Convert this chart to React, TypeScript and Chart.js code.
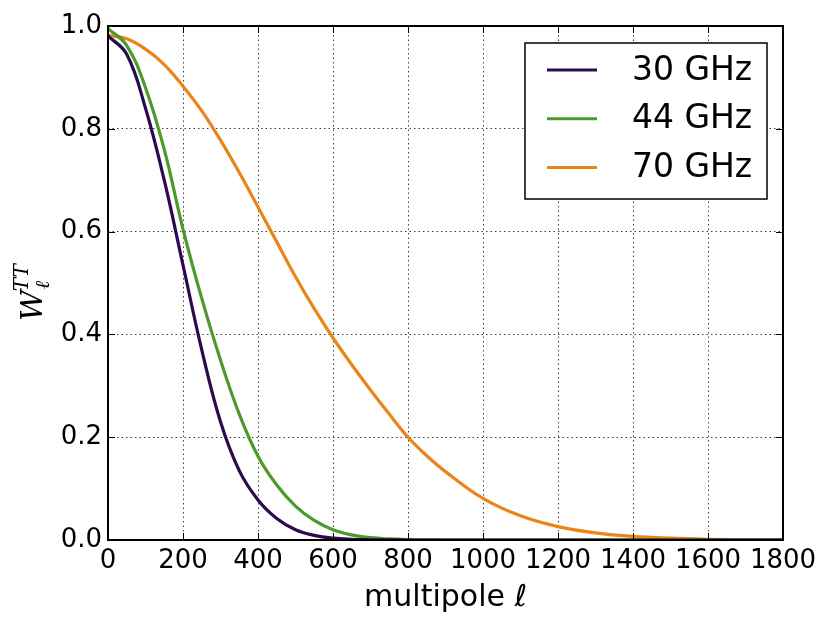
import { useEffect, useRef } from "react";
import { Chart, registerables, Plugin } from "chart.js";

Chart.register(...registerables);

// multipole grid shared by all three curves
const ell = [0, 50, 100, 150, 200, 250, 300, 350, 400, 450, 500, 550, 600, 650, 700, 750, 800, 850, 900, 1000, 1100, 1200, 1300, 1400, 1500, 1600, 1700, 1800];

const w30 = [0.981, 0.945, 0.84, 0.7, 0.535, 0.37, 0.23, 0.135, 0.078, 0.042, 0.02, 0.009, 0.0035, 0.0013, 0.0005, 0.0002, 0, 0, 0, 0, 0, 0, 0, 0, 0, 0, 0, 0];
const w44 = [0.995, 0.962, 0.88, 0.76, 0.605, 0.47, 0.35, 0.245, 0.163, 0.107, 0.066, 0.038, 0.02, 0.01, 0.0045, 0.002, 0.0008, 0.0003, 0, 0, 0, 0, 0, 0, 0, 0, 0, 0];
const w70 = [0.982, 0.975, 0.955, 0.925, 0.883, 0.835, 0.778, 0.715, 0.648, 0.58, 0.512, 0.45, 0.393, 0.341, 0.292, 0.245, 0.2, 0.164, 0.133, 0.081, 0.047, 0.026, 0.014, 0.007, 0.0035, 0.0015, 0.0006, 0.0002];

const seriesLabels = ["30 GHz", "44 GHz", "70 GHz"];
const seriesColors = ["#2b0a4d", "#4c9a2a", "#e8861a"];
const seriesValues = [w30, w44, w70];

const xTitle = "multipole \u2113";
const SANS = "'DejaVu Sans', sans-serif";
const SERIF = "'DejaVu Serif', serif";

// frame, inward ticks, legend box and the W_l^TT label
const decorations: Plugin<"line"> = {
  id: "decorations",
  afterDraw(chart) {
    const { ctx, chartArea: a, scales } = chart;
    const tick = 7;
    ctx.save();
    ctx.strokeStyle = "#000";
    ctx.lineWidth = 1;
    ctx.beginPath();
    scales.x.ticks.forEach((t) => {
      const px = Math.round(scales.x.getPixelForValue(t.value)) + 0.5;
      ctx.moveTo(px, a.bottom);
      ctx.lineTo(px, a.bottom - tick);
      ctx.moveTo(px, a.top);
      ctx.lineTo(px, a.top + tick);
    });
    scales.y.ticks.forEach((t) => {
      const py = Math.round(scales.y.getPixelForValue(t.value)) + 0.5;
      ctx.moveTo(a.left, py);
      ctx.lineTo(a.left + tick, py);
      ctx.moveTo(a.right, py);
      ctx.lineTo(a.right - tick, py);
    });
    ctx.stroke();

    ctx.lineWidth = 2;
    ctx.strokeRect(a.left, a.top, a.right - a.left, a.bottom - a.top);

    // legend
    const bx = a.right - 258;
    const by = a.top + 17;
    const bw = 242;
    const bh = 156;
    ctx.fillStyle = "#fff";
    ctx.fillRect(bx, by, bw, bh);
    ctx.lineWidth = 1.5;
    ctx.strokeStyle = "#000";
    ctx.strokeRect(bx, by, bw, bh);
    ctx.font = `33px ${SANS}`;
    ctx.textBaseline = "middle";
    ctx.textAlign = "left";
    seriesLabels.forEach((lab, i) => {
      const ly = by + 27 + i * 48.7;
      ctx.strokeStyle = seriesColors[i];
      ctx.lineWidth = 3;
      ctx.beginPath();
      ctx.moveTo(bx + 22, ly);
      ctx.lineTo(bx + 72, ly);
      ctx.stroke();
      ctx.fillStyle = "#000";
      ctx.fillText(lab, bx + 107, ly + 1);
    });

    // y label
    ctx.translate(42, 321);
    ctx.rotate(-Math.PI / 2);
    ctx.fillStyle = "#000";
    ctx.textBaseline = "alphabetic";
    ctx.font = `italic 30px ${SERIF}`;
    ctx.fillText("W", 0, 0);
    const ww = ctx.measureText("W").width;
    ctx.font = `italic 20px ${SERIF}`;
    ctx.fillText("\u2113", ww + 1, 7);
    ctx.fillText("TT", ww - 1, -14);
    ctx.restore();
  },
};

export default function App() {
  const canvasRef = useRef<HTMLCanvasElement | null>(null);

  useEffect(() => {
    if (!canvasRef.current) return;
    const chart = new Chart(canvasRef.current, {
      type: "line",
      data: {
        datasets: seriesLabels.map((label, i) => ({
          label,
          data: ell.map((l, j) => ({ x: l, y: seriesValues[i][j] })),
          borderColor: seriesColors[i],
          borderWidth: 3.2,
          pointRadius: 0,
          tension: 0.4,
          fill: false,
        })),
      },
      options: {
        animation: false,
        responsive: true,
        maintainAspectRatio: false,
        layout: { padding: { top: 26, right: 47, left: 0, bottom: 0 } },
        plugins: { legend: { display: false }, tooltip: { enabled: false } },
        scales: {
          x: {
            type: "linear",
            min: 0,
            max: 1800,
            ticks: {
              stepSize: 200,
              color: "#000",
              font: { family: SANS, size: 26 },
              padding: 6,
              maxRotation: 0,
              autoSkip: false,
              callback: (v) => String(v),
            },
            grid: { color: "rgba(0,0,0,0.75)", lineWidth: 1, drawTicks: false },
            border: { display: false, dash: [1.5, 3] },
            title: {
              display: true,
              text: xTitle,
              color: "#000",
              font: { family: SANS, size: 30 },
              padding: { top: 0, bottom: 12 },
            },
            afterFit: (s) => {
              s.height = 88;
            },
          },
          y: {
            type: "linear",
            min: 0,
            max: 1,
            ticks: {
              stepSize: 0.2,
              color: "#000",
              font: { family: SANS, size: 26 },
              padding: 6,
              callback: (v) => Number(v).toFixed(1),
            },
            grid: { color: "rgba(0,0,0,0.75)", lineWidth: 1, drawTicks: false },
            border: { display: false, dash: [1.5, 3] },
            afterFit: (s) => {
              s.width = 108;
            },
          },
        },
      },
      plugins: [decorations],
    });
    return () => chart.destroy();
  }, []);

  return (
    <div style={{ position: "fixed", left: 0, top: 0, width: 830, height: 628, background: "#fff" }}>
      <canvas ref={canvasRef} />
    </div>
  );
}
